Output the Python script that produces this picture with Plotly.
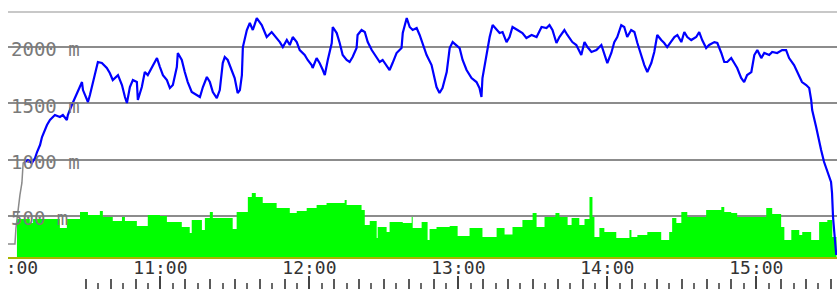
import pandas as pd
import plotly.graph_objects as go

# ---------------- data (minutes after 10:00, metres) ----------------
lift_min = [-1.4, 1.4, 1.8, 2.6, 3.4, 4.2, 4.7, 5.4]
lift_m = [252, 252, 393, 571, 686, 793, 970, 979]

alt_min = [
    5.4, 6.6, 8.2, 9.5, 10.3, 11.5, 12.3, 14.3, 15.5, 17.5,
    19.5, 20.7, 22.3, 22.7, 24.3, 25.6, 26.8, 28.4, 28.8, 29.6,
    30.8, 31.6, 32.8, 34.8, 36.4, 38.4, 39.6, 40.8, 42.9, 44.5,
    45.7, 46.5, 47.7, 48.9, 50.5, 50.9, 52.5, 53.7, 54.9, 56.9,
    58.6, 59.8, 61.0, 62.6, 63.8, 65.0, 66.6, 67.0, 68.6, 69.8,
    71.0, 72.6, 74.6, 75.9, 77.1, 78.7, 79.9, 81.1, 82.7, 83.9,
    85.1, 85.9, 87.1, 88.7, 89.9, 91.1, 92.0, 92.8, 93.2, 94.8,
    96.0, 97.2, 98.8, 100.8, 102.8, 104.8, 106.8, 108.1, 109.3, 110.9,
    112.1, 113.3, 114.9, 116.1, 118.1, 119.3, 120.9, 121.3, 122.9, 124.1,
    125.4, 126.2, 127.4, 129.0, 129.4, 131.0, 132.2, 133.4, 135.0, 136.2,
    137.4, 139.0, 139.4, 141.0, 142.3, 143.5, 145.1, 147.1, 148.3, 149.5,
    151.1, 152.3, 153.5, 155.1, 157.1, 157.6, 159.2, 160.4, 161.6, 163.2,
    164.4, 165.6, 167.2, 169.2, 170.4, 171.2, 172.4, 173.6, 175.3, 176.5,
    177.7, 179.3, 180.5, 181.7, 183.3, 185.3, 187.3, 188.5, 189.3, 189.7,
    191.3, 192.6, 193.8, 195.4, 196.6, 197.8, 199.4, 200.6, 201.8, 203.8,
    205.8, 207.4, 209.5, 211.5, 213.5, 215.5, 216.7, 217.9, 219.5, 220.7,
    222.7, 223.9, 225.9, 227.5, 228.7, 229.5, 230.8, 232.0, 233.6, 235.6,
    237.6, 238.8, 240.0, 241.6, 242.8, 244.0, 245.6, 246.8, 248.0, 249.6,
    250.9, 252.1, 253.7, 254.9, 256.1, 257.7, 258.9, 260.1, 261.7, 262.9,
    264.1, 265.7, 267.0, 268.2, 269.8, 271.0, 272.2, 273.8, 275.8, 277.0,
    278.2, 279.8, 281.0, 283.1, 284.3, 285.9, 287.1, 288.3, 289.9, 291.1,
    292.3, 293.9, 295.1, 296.3, 298.0, 299.2, 300.4, 302.0, 303.2, 305.2,
    306.4, 308.4, 310.4, 312.0, 313.2, 315.2, 316.4, 318.4, 320.1, 321.3,
    322.1, 322.5, 324.1, 325.3, 326.1, 327.3, 328.5, 330.1, 330.5, 330.7,
    330.9, 331.4, 331.9, 332.2,
]
alt_m = [
    979, 997, 970, 1015, 1068, 1130, 1201, 1308, 1352, 1396,
    1379, 1396, 1352, 1396, 1485, 1547, 1601, 1689, 1618, 1574,
    1512, 1574, 1689, 1867, 1858, 1814, 1769, 1707, 1751, 1663,
    1556, 1503, 1645, 1707, 1689, 1530, 1645, 1778, 1751, 1840,
    1902, 1822, 1751, 1707, 1636, 1663, 1822, 1947, 1885, 1778,
    1689, 1601, 1574, 1556, 1645, 1734, 1689, 1601, 1547, 1618,
    1858, 1911, 1885, 1796, 1725, 1592, 1618, 1751, 2000, 2151,
    2213, 2151, 2257, 2195, 2089, 2133, 2080, 2044, 2000, 2062,
    2018, 2089, 2044, 1973, 1929, 1885, 1840, 1814, 1902, 1858,
    1796, 1751, 1885, 2036, 2178, 2124, 2036, 1929, 1885, 1867,
    1911, 1991, 2107, 2151, 2133, 2044, 1973, 1911, 1867, 1885,
    1840, 1796, 1858, 1947, 1991, 2124, 2257, 2178, 2151, 2169,
    2107, 2036, 1929, 1840, 1734, 1645, 1592, 1636, 1778, 1991,
    2044, 2018, 1991, 1885, 1796, 1725, 1689, 1636, 1556, 1725,
    1947, 2089, 2195, 2151, 2124, 2133, 2044, 2089, 2178, 2151,
    2124, 2080, 2107, 2089, 2178, 2169, 2195, 2151, 2036, 2089,
    2151, 2107, 2044, 2018, 1956, 1929, 2044, 2000, 1956, 1973,
    2018, 1929, 1858, 1947, 2044, 2089, 2195, 2178, 2089, 2151,
    2133, 2036, 1911, 1840, 1778, 1858, 1956, 2107, 2062, 2036,
    2000, 2044, 2089, 2107, 2044, 2133, 2089, 2062, 2089, 2133,
    2062, 1991, 2018, 2044, 2036, 1947, 1867, 1867, 1902, 1858,
    1814, 1725, 1689, 1751, 1778, 1929, 1973, 1902, 1947, 1929,
    1956, 1947, 1973, 1973, 1902, 1840, 1778, 1689, 1663, 1636,
    1530, 1441, 1290, 1148, 1086, 979, 908, 802, 704, 580,
    491, 358, 260, 154,
]

green_min = [
    2.2, 7.4, 8.7, 13.5, 19.5, 22.3, 27.6, 30.8, 35.6, 36.8,
    40.8, 44.5, 45.7, 50.5, 54.9, 59.8, 62.6, 68.6, 71.8, 72.6,
    76.7, 77.9, 79.9, 81.1, 85.9, 89.1, 90.7, 95.2, 96.8, 98.4,
    101.2, 104.0, 106.8, 112.1, 114.9, 118.9, 122.9, 126.9, 134.2, 135.0,
    141.0, 142.3, 144.3, 147.1, 147.5, 151.1, 152.3, 157.6, 161.2, 161.6,
    165.2, 167.6, 168.4, 171.2, 176.5, 179.7, 184.5, 189.7, 195.4, 198.6,
    201.8, 205.8, 209.9, 211.5, 214.7, 219.1, 220.7, 224.0, 225.6, 228.7,
    230.8, 232.8, 234.0, 234.8, 236.8, 238.8, 243.6, 248.9, 249.7, 252.1,
    256.1, 261.7, 264.9, 266.1, 267.8, 269.8, 272.2, 279.8, 285.9, 287.1,
    289.9, 292.3, 304.0, 306.4, 310.0, 311.3, 314.1, 317.3, 318.5, 322.1,
    325.3, 328.6, 330.6, 332.3,
]
green_m = [
    473, 438, 473, 473, 393, 473, 535, 509, 544, 491,
    456, 491, 456, 411, 509, 500, 447, 402, 349, 464,
    376, 482, 535, 482, 482, 385, 535, 669, 704, 669,
    615, 615, 571, 527, 544, 571, 598, 615, 642, 598,
    553, 420, 456, 305, 402, 358, 447, 438, 491, 393,
    447, 287, 385, 402, 411, 322, 393, 314, 393, 335,
    402, 464, 527, 402, 491, 527, 491, 420, 482, 420,
    473, 669, 491, 314, 393, 358, 305, 376, 314, 331,
    358, 287, 358, 482, 438, 535, 491, 553, 580, 535,
    527, 491, 571, 518, 402, 287, 376, 331, 358, 287,
    447, 464, 314, 314,
]

first_hour_label = "10:00"
hour_labels = ["11:00", "12:00", "13:00", "14:00", "15:00"]
y_ticks = [500, 1000, 1500, 2000]
y_labels = ["500 m", "1000 m", "1500 m", "2000 m"]
x_start_min, x_end_min = -1.4, 332.5
y_range = [136, 2311]

# ---------------- build ----------------
base = pd.Timestamp("2024-06-01 10:00:00")


def to_time(mins):
    return [base + pd.Timedelta(minutes=m) for m in mins]


hour_vals = [base + pd.Timedelta(hours=i + 1) for i in range(len(hour_labels))]
x_range = to_time([x_start_min, x_end_min])

FONT = "DejaVu Sans Mono"

fig = go.Figure()
fig.add_trace(go.Scatter(
    x=to_time(green_min), y=green_m, mode="lines", line_shape="hv",
    line=dict(width=0, color="#00ff00"), fill="tozeroy", fillcolor="#00ff00",
    hoverinfo="skip", showlegend=False))
fig.add_trace(go.Scatter(
    x=to_time(lift_min), y=lift_m, mode="lines",
    line=dict(width=1.5, color="#8a8a8a"), showlegend=False))
fig.add_trace(go.Scatter(
    x=to_time(alt_min), y=alt_m, mode="lines",
    line=dict(width=2.2, color="#0000ff"), showlegend=False))
# invisible carriers for the tick-only axes
for ax in ("x2", "x3"):
    fig.add_trace(go.Scatter(
        x=x_range, y=[y_range[0], y_range[0]], xaxis=ax, yaxis="y",
        mode="lines", line=dict(width=0), opacity=0,
        hoverinfo="skip", showlegend=False))

# figure sits 8px in from the page's top-left corner (set in post_script)
ydom0 = 32 / 277

fig.update_layout(
    width=829, height=281,
    margin=dict(l=0, r=0, t=4, b=0, pad=0, autoexpand=False),
    paper_bgcolor="white", plot_bgcolor="white",
    showlegend=False,
    xaxis=dict(
        type="date", range=x_range, anchor="y", automargin=False,
        tickvals=hour_vals, ticktext=hour_labels, ticks="",
        ticklabelstandoff=-7, ticklabeloverflow="allow",
        tickfont=dict(family=FONT, size=18, color="#333333"),
        showgrid=False, zeroline=False,
        showline=True, linecolor="#a8b400", linewidth=2,
        fixedrange=True,
    ),
    xaxis2=dict(
        type="date", matches="x", overlaying="x", anchor="free", position=0,
        side="bottom", showticklabels=False, showgrid=False, showline=False,
        zeroline=False, ticks="inside", ticklen=10, tickwidth=1.5,
        tickcolor="#5a5a5a", tick0=base, dtick=600000, automargin=False,
        minor=dict(ticks="inside", ticklen=6, tickwidth=1.5,
                   tickcolor="#6a6a6a", dtick=300000, tick0=base,
                   showgrid=False),
    ),
    xaxis3=dict(
        type="date", matches="x", overlaying="x", anchor="free", position=0,
        side="bottom", showticklabels=False, showgrid=False, showline=False,
        zeroline=False, ticks="inside", ticklen=13, tickwidth=2,
        tickcolor="#444444", tick0=base, dtick=3600000, automargin=False,
    ),
    yaxis=dict(
        range=y_range, domain=[ydom0, 1], automargin=False,
        tickvals=y_ticks, ticktext=y_labels,
        ticklabelposition="inside top", ticklabelshift=16,
        tickfont=dict(family=FONT, size=19, color="#7a7a7a"),
        showgrid=True, gridcolor="#8c8c8c", gridwidth=2,
        zeroline=False, showline=False, ticks="",
        fixedrange=True,
    ),
    shapes=[
        dict(type="line", xref="paper", yref="paper", x0=0, x1=1, y0=1, y1=1,
             line=dict(color="#c8c8c8", width=2), layer="above"),
    ],
    annotations=[
        dict(x=base, xref="x", y=0.077, yref="paper", text=first_hour_label,
             showarrow=False, xanchor="center", yanchor="middle",
             font=dict(family=FONT, size=18, color="#333333")),
    ],
)

post = (
    "document.documentElement.style.overflow='hidden';"
    "document.body.style.overflow='hidden';"
    "document.body.style.margin='8px 0 0 8px';"
    "document.body.style.padding='0';"
)
fig.write_html("out.html", post_script=post)
